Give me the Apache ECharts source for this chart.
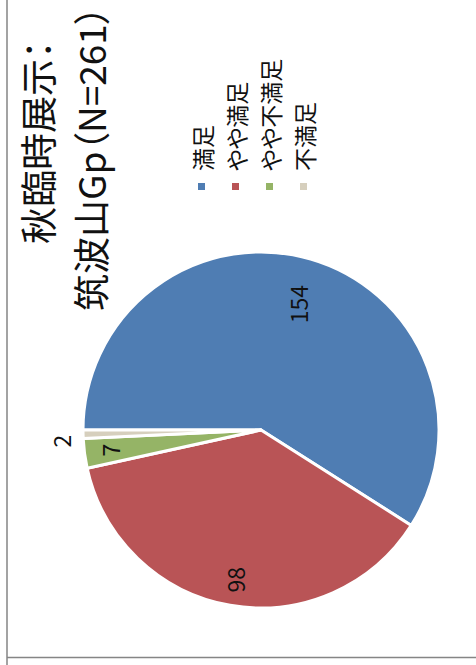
<!DOCTYPE html>
<html>
<head>
<meta charset="utf-8">
<script src="https://cdn.jsdelivr.net/npm/echarts@6/dist/echarts.min.js"></script>
<style>
  html, body { margin: 0; padding: 0; background: #fff; overflow: hidden; }
  /* the chart is laid out landscape and turned a quarter turn counter-clockwise */
  #chart {
    position: absolute; left: 0; top: 0;
    width: 665px; height: 476px;
    transform-origin: 0 0;
    transform: translate(0, 665px) rotate(-90deg);
    font-feature-settings: "palt";
  }
</style>
</head>
<body>
<div id="chart"></div>
<script>
// survey answers
const categories = ['満足', 'やや満足', 'やや不満足', '不満足'];
const counts = [154, 98, 7, 2];
const colors = ['#4f7db3', '#b95456', '#95b466', '#d6cfbd'];
const titleLines = ['秋臨時展示：', '筑波山Gp（N=261）'];

const FONT = '"Noto Sans CJK JP", "Noto Sans", sans-serif';
const PIE_CENTER = [235, 261];
const PIE_RADIUS = 178;

const chart = echarts.init(document.getElementById('chart'), null, { renderer: 'svg' });

const labelStyle = {
  fontFamily: FONT, fontSize: 23, color: '#111',
  formatter: '{c}'
};

// main slices: only the thin last slice labels itself, outside the pie
const mainData = categories.map((name, i) => ({
  name,
  value: counts[i],
  itemStyle: { color: colors[i] },
  label: { show: i === categories.length - 1 }
}));

// invisible rings that carry the in-slice value labels; "inside" sits at half
// the ring radius, so each ring sets how far out its labels go
function labelRing(radius, shown) {
  return {
    type: 'pie',
    center: PIE_CENTER,
    radius,
    startAngle: 90,
    clockwise: true,
    silent: true,
    avoidLabelOverlap: false,
    legendHoverLink: false,
    itemStyle: { color: 'transparent', borderWidth: 0 },
    label: Object.assign({ position: 'inside' }, labelStyle),
    labelLine: { show: false },
    emphasis: { disabled: true },
    data: categories.map((name, i) => ({
      name,
      value: counts[i],
      label: { show: shown.includes(i) }
    }))
  };
}

chart.setOption({
  animation: false,
  backgroundColor: '#fff',
  title: [
    {
      text: titleLines[0], left: 421, top: 18, padding: 0,
      textStyle: { fontFamily: FONT, fontSize: 37, fontWeight: 'normal', color: '#111', lineHeight: 37 }
    },
    {
      text: titleLines[1], left: 354, top: 71, padding: 0,
      textStyle: { fontFamily: FONT, fontSize: 37, fontWeight: 'normal', color: '#111', lineHeight: 37 }
    }
  ],
  legend: {
    orient: 'vertical',
    left: 473, top: 190,
    padding: 0,
    icon: 'rect',
    itemWidth: 9, itemHeight: 9, itemGap: 11,
    data: categories,
    textStyle: { fontFamily: FONT, fontSize: 23, lineHeight: 23, color: '#111', padding: [0, 0, 0, 6] }
  },
  graphic: [
    { type: 'line', shape: { x1: 0, y1: 7, x2: 665, y2: 7 }, style: { stroke: '#858585', lineWidth: 1.5 }, silent: true },
    { type: 'line', shape: { x1: 7.5, y1: 7, x2: 7.5, y2: 476 }, style: { stroke: '#858585', lineWidth: 1.5 }, silent: true }
  ],
  series: [
    {
      type: 'pie',
      center: PIE_CENTER,
      radius: PIE_RADIUS,
      startAngle: 90,
      clockwise: true,
      avoidLabelOverlap: false,
      silent: true,
      itemStyle: { borderColor: '#fff', borderWidth: 3 },
      label: Object.assign({ position: 'outside', distanceToLabelLine: 0 }, labelStyle),
      labelLine: { show: false, length: 22, length2: 0 },
      emphasis: { disabled: true },
      data: mainData
    },
    labelRing(256, [0]),
    labelRing(298, [1, 2])
  ]
});
</script>
</body>
</html>
